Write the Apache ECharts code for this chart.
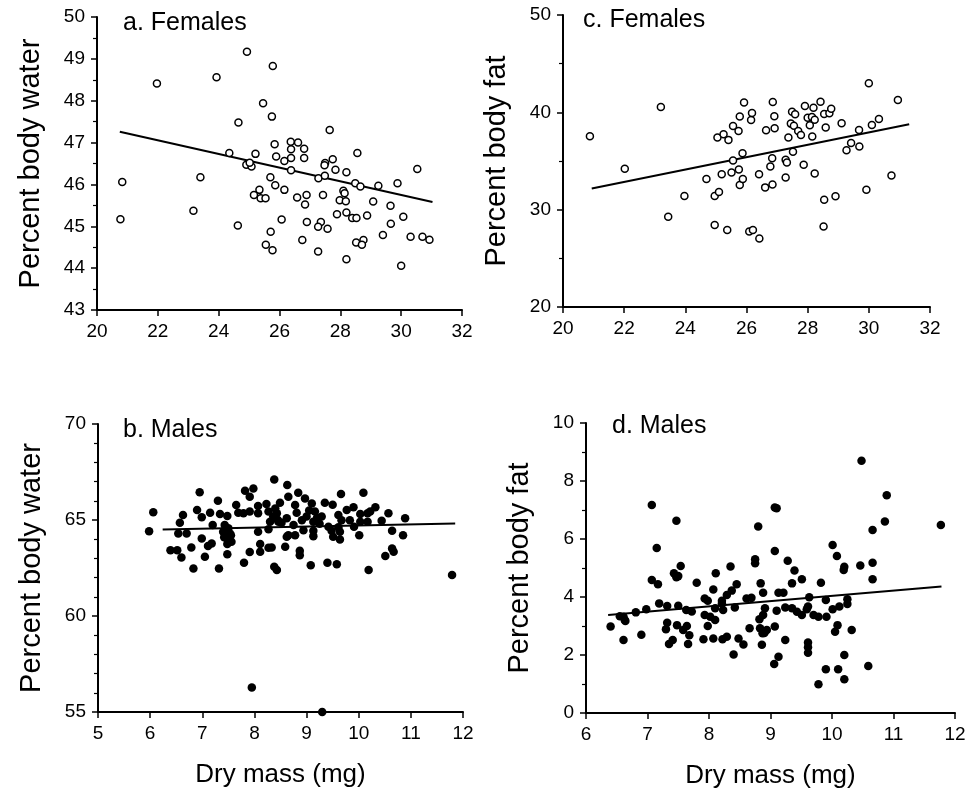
<!DOCTYPE html>
<html>
<head>
<meta charset="utf-8">
<script src="https://cdn.jsdelivr.net/npm/echarts@6/dist/echarts.min.js"></script>
<style>html,body{margin:0;padding:0;background:#fff}#c{width:978px;height:789px}</style>
</head>
<body>
<div id="c"></div>
<script>
// ---------- DATA ----------
// a. Females: dry mass (mg) vs percent body water
const femWaterMass = [20.77,20.83,21.97,23.17,23.40,23.93,24.65,24.63,24.35,24.93,24.91,25.08,25.02,25.21,25.46,25.75,25.78,25.34,25.16,25.38,25.54,25.70,25.84,25.89,25.86,26.16,26.16,26.07,25.71,25.55,25.77,26.37,26.61,26.38,26.81,26.38,26.81,26.38,26.58,26.89,26.84,26.90,26.75,27.28,27.36,27.27,27.58,27.27,27.43,27.49,27.50,27.48,27.75,27.84,27.65,28.10,28.14,27.98,28.18,28.20,27.89,28.20,28.39,28.53,28.20,28.52,28.76,28.71,28.56,28.49,28.66,28.88,29.08,29.25,29.40,29.65,29.66,29.88,30.00,30.07,30.31,30.53,30.70,30.93];
const femWaterPct  = [45.17,46.06,48.41,45.37,46.17,48.56,47.48,45.02,46.75,49.17,46.47,46.43,46.52,46.73,47.94,47.62,48.83,45.87,45.75,45.67,45.67,46.17,46.96,46.67,45.98,46.56,45.87,45.16,44.87,44.56,44.43,47.02,47.00,46.84,46.85,46.63,46.63,46.34,45.69,45.75,45.52,45.10,44.67,46.15,45.10,44.99,44.94,44.40,45.75,46.21,46.51,46.46,46.60,46.35,47.30,45.85,45.79,45.62,45.60,46.29,45.29,45.33,45.20,45.20,44.21,44.61,44.67,44.56,46.75,46.03,45.95,45.26,45.59,45.97,44.79,45.49,45.06,46.03,44.06,45.23,44.75,46.37,44.75,44.68];
const femWaterFitX = [20.75, 31.03];
const femWaterFitY = [47.26, 45.58];

// c. Females: dry mass (mg) vs percent body fat
const femFatMass = [20.88,22.02,23.20,23.44,23.97,24.69,24.96,24.96,25.10,25.19,25.05,25.25,25.41,25.37,25.51,25.56,25.56,25.74,25.78,25.75,25.78,25.88,25.87,25.92,26.09,26.21,26.42,26.15,26.18,26.41,26.61,26.64,26.78,26.84,26.85,26.86,26.91,26.92,27.28,27.32,27.28,27.37,27.45,27.49,27.59,27.52,27.55,27.69,27.78,27.87,27.91,28.00,28.07,28.14,28.19,28.15,28.23,28.23,28.42,28.54,28.59,28.71,28.77,28.54,28.52,28.91,29.11,29.27,29.42,29.68,29.69,29.92,30.00,30.10,30.33,30.74,30.95];
const femFatPct  = [37.54,34.20,40.55,29.28,31.40,33.14,28.43,31.40,31.81,33.65,37.41,37.75,37.17,27.92,33.82,35.05,38.60,38.09,39.56,34.13,32.53,33.14,35.80,41.02,27.75,27.92,27.03,39.22,39.93,33.65,32.29,38.16,34.44,35.29,32.59,41.06,39.59,38.36,35.12,34.85,33.31,37.41,38.84,40.07,39.80,35.94,38.63,38.09,37.68,34.61,40.65,39.45,38.67,39.52,40.48,37.51,39.25,33.72,41.09,39.83,38.43,39.90,40.38,31.02,28.26,31.37,38.87,36.11,36.86,38.19,36.48,32.05,43.00,38.70,39.32,33.52,41.26];
const femFatFitX = [20.94, 31.32];
const femFatFitY = [32.18, 38.77];

// b. Males: dry mass (mg) vs percent body water
const maleWaterMass = [8.38,8.63,7.98,7.82,6.95,7.91,7.30,8.65,7.65,8.07,8.23,8.49,6.06,6.63,6.90,6.99,7.15,7.34,7.48,7.69,7.79,7.91,8.07,8.27,8.36,8.43,8.30,8.46,8.62,6.57,7.20,7.43,7.50,7.40,7.53,7.47,7.56,7.48,5.98,6.54,6.70,8.07,8.27,6.99,6.79,6.39,6.52,6.60,7.05,7.11,7.18,7.48,7.91,8.11,8.11,8.27,8.33,8.59,8.62,7.80,6.83,7.32,8.38,8.43,8.84,8.97,9.66,10.09,8.78,9.10,9.35,9.50,9.90,9.77,10.32,8.81,9.16,9.29,9.00,9.61,10.03,10.17,10.22,10.57,10.89,8.91,9.13,9.67,9.83,10.03,10.17,10.44,8.52,8.75,9.42,9.61,9.91,8.94,9.13,9.48,9.64,10.64,8.65,8.78,9.13,9.51,9.64,10.01,10.85,8.87,8.87,10.64,10.67,10.51,9.08,9.40,9.58,10.19,11.79,7.95,9.30,7.45,7.55,7.42,8.40,8.45,9.05,9.20,9.25];
const maleWaterPct  = [67.11,66.82,66.64,66.52,66.44,66.21,66.00,66.21,65.78,65.73,65.83,65.90,65.40,65.26,65.52,65.14,65.38,65.31,65.21,65.38,65.35,65.44,65.35,65.44,65.18,65.35,64.91,64.91,65.09,64.86,64.74,64.74,64.57,64.39,64.30,64.04,63.87,63.75,64.41,64.30,64.30,64.39,64.52,64.04,63.57,63.43,63.43,63.05,63.08,63.64,63.78,63.22,63.33,63.35,63.75,63.55,63.57,63.61,64.13,62.77,62.48,62.48,62.57,62.39,66.42,66.12,66.35,66.42,65.78,65.86,65.90,65.80,65.66,65.52,65.66,65.38,65.44,65.18,65.18,65.26,65.31,65.35,65.44,65.35,65.09,64.99,64.91,64.99,64.99,64.91,64.91,64.96,64.86,64.74,64.65,64.62,64.65,64.47,64.44,64.44,64.39,64.44,64.21,64.21,64.16,64.13,63.99,64.21,64.21,63.40,63.17,63.52,63.35,63.12,62.64,62.77,62.70,62.39,62.13,56.27,55.00,64.55,64.20,64.10,65.60,65.00,65.50,65.10,64.80];
const maleWaterFitX = [6.24, 11.85];
const maleWaterFitY = [64.51, 64.82];

// d. Males: dry mass (mg) vs percent body fat
const maleFatMass = [7.47,8.80,7.15,8.75,8.75,7.54,8.35,7.43,7.50,7.47,8.11,7.07,7.17,7.80,8.45,8.07,8.37,8.29,8.84,8.88,7.93,7.98,8.21,8.21,8.61,8.69,7.19,7.32,7.50,6.98,6.81,6.55,6.63,7.63,7.72,8.10,8.23,8.42,7.93,8.02,8.10,8.91,8.88,8.82,6.40,7.32,7.30,7.48,7.64,7.58,7.68,7.98,8.66,8.83,8.87,8.90,6.61,6.90,7.41,7.35,7.66,7.91,8.07,8.22,8.29,8.48,8.56,8.86,8.40,7.07,10.86,11.77,10.66,9.07,10.01,10.08,9.28,9.39,10.20,10.19,10.46,10.66,10.66,9.51,9.35,9.82,9.13,9.21,9.63,9.90,10.25,10.25,9.61,9.10,9.24,9.35,9.43,9.51,9.59,9.70,9.78,9.91,10.01,10.12,8.94,9.07,10.09,10.05,10.32,9.24,9.61,9.61,9.61,9.13,9.06,10.20,10.59,9.90,10.10,10.20,9.78,10.48,10.89,9.07,9.10,6.61,6.64];
const maleFatPct  = [6.63,6.43,5.69,5.30,5.16,5.07,5.05,4.82,4.72,4.68,4.82,4.59,4.44,4.49,4.44,4.26,4.22,4.07,4.47,4.15,3.95,3.87,3.87,3.78,3.95,3.97,3.78,3.69,3.70,3.58,3.47,3.34,3.21,3.55,3.50,3.61,3.55,3.64,3.38,3.32,3.21,3.61,3.38,3.23,2.98,3.11,2.89,3.03,3.00,2.86,2.68,3.00,2.92,2.92,2.75,2.76,2.52,2.70,2.52,2.38,2.38,2.54,2.57,2.54,2.63,2.57,2.36,2.35,2.02,7.17,6.60,6.48,6.31,5.59,5.79,5.41,5.25,4.91,5.04,4.93,5.09,5.18,4.61,4.61,4.47,4.49,4.15,4.15,3.99,3.90,3.92,3.76,3.67,3.53,3.64,3.61,3.49,3.38,3.58,3.38,3.32,3.32,3.58,3.67,2.86,2.98,3.03,2.80,2.86,2.52,2.43,2.27,2.08,1.94,1.69,2.00,1.62,1.51,1.51,1.16,0.99,8.70,7.51,7.09,7.06,3.32,3.17];
const maleFatFitX = [6.36, 11.78];
const maleFatFitY = [3.38, 4.36];

// axis ranges [min, max, interval]
const xRangeFemales = [20, 32, 2];
const yRangeFemWater = [43, 50, 1];
const yRangeFemFat = [20, 50, 10];
const xRangeMales = [5, 12, 1];
const xRangeMalesFat = [6, 12, 1];
const yRangeMaleWater = [55, 70, 5];
const yRangeMaleFat = [0, 10, 2];

const panelTitles = ['a. Females', 'c. Females', 'b. Males', 'd. Males'];
const yNames = ['Percent body water', 'Percent body fat', 'Percent body water', 'Percent body fat'];
const xName = 'Dry mass (mg)';

// ---------- CHART ----------
const FONT = "'Liberation Sans', Arial, Helvetica, sans-serif";
const zip = (a, b) => a.map((v, i) => [v, b[i]]);

const grids = [
  {left: 97, top: 17, width: 365, height: 293},
  {left: 563, top: 15, width: 367, height: 292},
  {left: 98, top: 424, width: 365, height: 288},
  {left: 586, top: 423, width: 369, height: 290}
];

function xAx(i, r, withName) {
  return {
    type: 'value', gridIndex: i, min: r[0], max: r[1], interval: r[2],
    name: withName ? xName : '', nameLocation: 'middle', nameGap: 50,
    nameTextStyle: {fontFamily: FONT, fontSize: 26, color: '#000'},
    axisLine: {show: true, onZero: false, lineStyle: {color: '#000', width: 2}},
    axisTick: {show: true, inside: false, length: 6, lineStyle: {color: '#000', width: 1.5}},
    minorTick: {show: false},
    axisLabel: {show: true, margin: 12, color: '#000', fontFamily: FONT, fontSize: 19, showMinLabel: true, showMaxLabel: true},
    splitLine: {show: false}
  };
}
function yAx(i, r, minorSplit, name) {
  return {
    type: 'value', gridIndex: i, min: r[0], max: r[1], interval: r[2],
    name: name, nameLocation: 'middle', nameGap: 52, nameRotate: 90,
    nameTextStyle: {fontFamily: FONT, fontSize: 29, color: '#000'},
    axisLine: {show: true, onZero: false, lineStyle: {color: '#000', width: 2}},
    axisTick: {show: true, inside: false, length: 6, lineStyle: {color: '#000', width: 1.5}},
    minorTick: {show: true, splitNumber: minorSplit, length: 4, lineStyle: {color: '#000', width: 1.2}},
    axisLabel: {show: true, margin: 12, color: '#000', fontFamily: FONT, fontSize: 19, showMinLabel: true, showMaxLabel: true},
    splitLine: {show: false}, minorSplitLine: {show: false}
  };
}

const hollow = {color: '#fff', borderColor: '#000', borderWidth: 1.5, opacity: 1};
const filled = {color: '#000', borderWidth: 0, opacity: 1};

function scatter(i, xs, ys, style, size) {
  return {type: 'scatter', xAxisIndex: i, yAxisIndex: i, data: zip(xs, ys), symbol: 'circle', symbolSize: size, itemStyle: style, silent: true, z: 3};
}
function fit(i, xs, ys) {
  return {type: 'line', xAxisIndex: i, yAxisIndex: i, data: zip(xs, ys), showSymbol: false, symbol: 'none', lineStyle: {color: '#000', width: 2, opacity: 1}, silent: true, z: 2};
}

const titlePos = [[123, 11], [583, 8], [123, 418], [612, 414]];

const option = {
  animation: false,
  backgroundColor: '#fff',
  grid: grids.map(g => Object.assign({containLabel: false, outerBoundsMode: 'none'}, g)),
  xAxis: [
    xAx(0, xRangeFemales, false),
    xAx(1, xRangeFemales, false),
    xAx(2, xRangeMales, true),
    xAx(3, xRangeMalesFat, true)
  ],
  yAxis: [
    yAx(0, yRangeFemWater, 2, yNames[0]),
    yAx(1, yRangeFemFat, 2, yNames[1]),
    yAx(2, yRangeMaleWater, 5, yNames[2]),
    yAx(3, yRangeMaleFat, 2, yNames[3])
  ],
  graphic: panelTitles.map((t, i) => ({
    type: 'text', left: titlePos[i][0], top: titlePos[i][1],
    style: {text: t, fontFamily: FONT, fontSize: 25, fill: '#000'}
  })),
  series: [
    fit(0, femWaterFitX, femWaterFitY),
    scatter(0, femWaterMass, femWaterPct, hollow, 7),
    fit(1, femFatFitX, femFatFitY),
    scatter(1, femFatMass, femFatPct, hollow, 7),
    fit(2, maleWaterFitX, maleWaterFitY),
    scatter(2, maleWaterMass, maleWaterPct, filled, 8.5),
    fit(3, maleFatFitX, maleFatFitY),
    scatter(3, maleFatMass, maleFatPct, filled, 8.5)
  ]
};
const chart = echarts.init(document.getElementById('c'), null, {renderer: 'canvas'});
chart.setOption(option);
</script>
</body>
</html>
